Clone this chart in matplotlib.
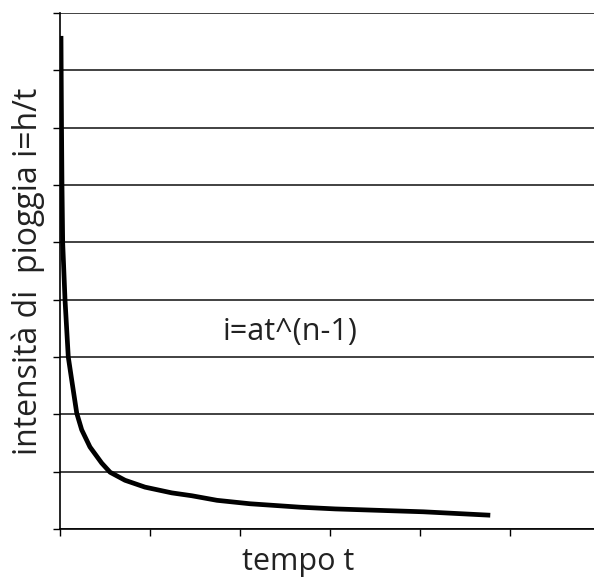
import numpy as np
import matplotlib.pyplot as plt

# curve (t in tick units, i in gridline units)
tempo = [0.011, 0.013, 0.017, 0.022, 0.03, 0.056, 0.092, 0.13, 0.186,
         0.241, 0.333, 0.463, 0.556, 0.722, 0.944, 1.241, 1.463, 1.744,
         2.11, 2.667, 3.056, 3.444, 4.033, 4.778]
intensita = [8.60, 8.0, 7.0, 6.0, 4.99, 3.99, 3.0, 2.60, 2.02,
             1.73, 1.43, 1.15, 0.99, 0.85, 0.73, 0.63, 0.58, 0.50,
             0.44, 0.38, 0.35, 0.33, 0.30, 0.24]

x_ticks = [0, 1, 2, 3, 4, 5]
y_ticks = [0, 1, 2, 3, 4, 5, 6, 7, 8, 9]

fig = plt.figure(figsize=(5.94, 5.78), dpi=100)
ax = fig.add_axes([0.101, 0.0848, 0.899, 0.8927])

ax.plot(tempo, intensita, color="black", lw=3.4, solid_joinstyle="round",
        solid_capstyle="butt")

ax.set_xlim(0, 5.93)
ax.set_ylim(0, 9)
ax.set_xticks(x_ticks)
ax.set_yticks(y_ticks)
ax.set_xticklabels([])
ax.set_yticklabels([])
ax.tick_params(direction="out", length=5, width=1, color="black")
ax.grid(axis="y", color="#333333", lw=1.3)
ax.set_axisbelow(True)

for s in ["top", "right"]:
    ax.spines[s].set_visible(False)
for s in ["left", "bottom"]:
    ax.spines[s].set_linewidth(1.2)

ax.set_xlabel("tempo t", fontsize=22, family="Open Sans", color="#222222")
ax.xaxis.set_label_coords(0.446, -0.035, transform=ax.transAxes)
ax.xaxis.label.set_va("top")
ax.set_ylabel("intensità di  pioggia i=h/t", fontsize=23, family="Open Sans",
              labelpad=2, color="#222222")
ax.text(1.81, 3.44, "i=at^(n-1)", fontsize=22, family="Open Sans",
        color="#222222", va="center")

fig.savefig("out.png", dpi=100)
